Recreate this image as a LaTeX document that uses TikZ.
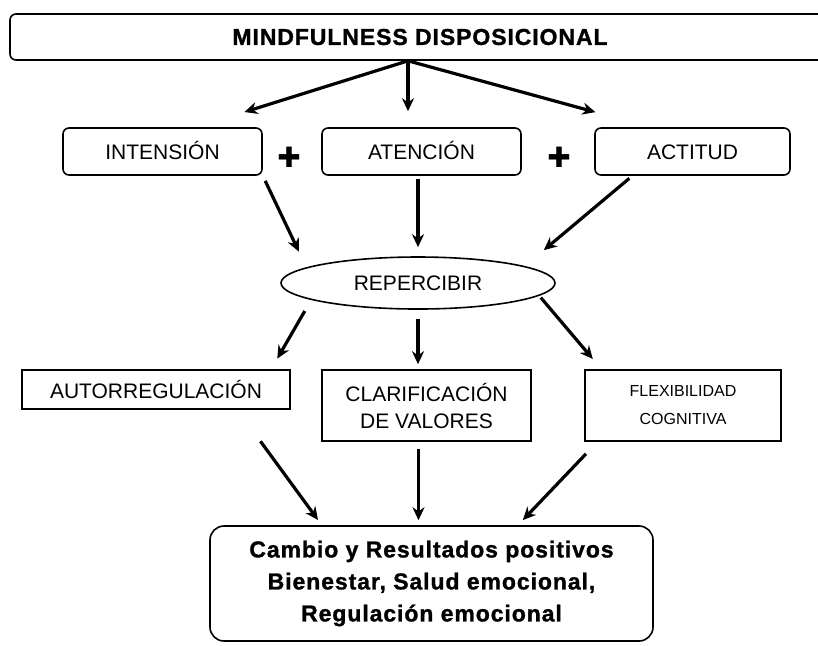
\documentclass[tikz,border=0pt]{standalone}
\usepackage{fontspec}
\setmainfont{Liberation Sans}
\newfontfamily\symfont{DejaVu Sans}
\newfontfamily\widefont[LetterSpace=4, BoldFeatures={FakeBold=1.2}]{Liberation Sans}
\usepackage{tikz}
\usetikzlibrary{arrows.meta,shapes.geometric}
\usetikzlibrary{positioning}
\tikzstyle{rbox} = [rectangle, rounded corners=3pt, draw=black, line width=0.8pt, minimum width=99.5pt, minimum height=23.5pt, text centered, text height=7.6pt, text depth=0pt, font=\fontsize{10.5}{12}\selectfont]
\tikzstyle{sbox} = [rectangle, draw=black, line width=0.8pt, minimum height=35.5pt, align=center, inner sep=0pt, font=\fontsize{10.5}{13.5}\selectfont]
\tikzstyle{plus} = [font=\symfont\fontsize{14}{14}\selectfont, inner sep=0pt]
\tikzstyle{arr} = [-{Stealth[length=6.5pt,width=6pt]}, line width=1.6pt]

\begin{document}
\begin{tikzpicture}[x=0.5pt,y=-0.5pt]
\useasboundingbox (0,0) rectangle (818,645);

 \node (mind) [rectangle, rounded corners=3pt, draw=black, line width=0.8pt, minimum width=410pt, minimum height=23pt,
   font=\widefont\bfseries\fontsize{11.5}{13}\selectfont] at (420,37) {MINDFULNESS DISPOSICIONAL};
 \coordinate (fork) at ([xshift=-6pt]mind.south);

 \node (intension) [rbox] at (162.5,151.5) {INTENSIÓN};
 \node (atencion) [rbox] at (421.5,151.5) {ATENCIÓN};
 \node (actitud) [rbox, minimum width=97.5pt] at (692.5,151.5) {ACTITUD};
 \node (plusa) [plus] at (289,157) {✚};
 \node (plusb) [plus] at (559,157) {✚};

 \node (rep) [ellipse, draw=black, line width=0.8pt, minimum width=137pt, minimum height=26pt, inner sep=0pt,
   font=\fontsize{10.5}{12}\selectfont] at (418,283) {REPERCIBIR};

 \node (autor) [sbox, minimum width=134pt, minimum height=19.5pt] at (156,389.5) {AUTORREGULACIÓN};
 \node (clarif) [sbox, minimum width=104.5pt] at (426.5,405.5) {CLARIFICACIÓN\\DE VALORES};
 \node (flex) [sbox, minimum width=98pt, font=\fontsize{8}{14}\selectfont] at (683,405.5) {FLEXIBILIDAD\\COGNITIVA};

 \node (result) [rectangle, rounded corners=7pt, draw=black, line width=0.8pt, minimum width=221.5pt, minimum height=57.5pt,
   align=center, font=\widefont\bfseries\fontsize{11.5}{16}\selectfont] at (431.5,583.5)
   {Cambio y Resultados positivos\\Bienestar, Salud emocional,\\Regulación emocional};

 % arrows
 \draw[arr, shorten >=25.4pt] (fork) -- (intension.36);
 \draw[arr, shorten >=8pt] (fork) -- (fork |- atencion.north);
 \draw[arr, shorten >=28.5pt] (fork) -- (actitud.150);

 \draw[arr, shorten <=2.8pt, shorten >=8.7pt] (intension.south east) -- (rep.172);
 \draw[arr, shorten <=1.5pt, shorten >=4.5pt] (atencion.south -| rep) -- (rep.north);
 \draw[arr, shorten <=2pt, shorten >=12.4pt] (actitud.202) -- (rep.9);

 \draw[arr, shorten <=6.4pt, shorten >=6.1pt] (rep.189) -- (autor.10);
 \draw[arr, shorten <=4.5pt, shorten >=2.5pt] (rep.south) -- (rep.south |- clarif.north);
 \draw[arr, shorten <=1.2pt, shorten >=6.7pt] (rep.354) -- (flex.156);

 \draw[arr, shorten <=19.5pt, shorten >=3.2pt] (autor.346) -- (result.152);
 \draw[arr, shorten <=3.5pt, shorten >=2.5pt] ([xshift=-4pt]clarif.south) -- ([xshift=-4pt]clarif.south |- result.north);
 \draw[arr, shorten <=8.3pt, shorten >=3.5pt] (flex.203) -- (result.34);

\end{tikzpicture}
\end{document}
